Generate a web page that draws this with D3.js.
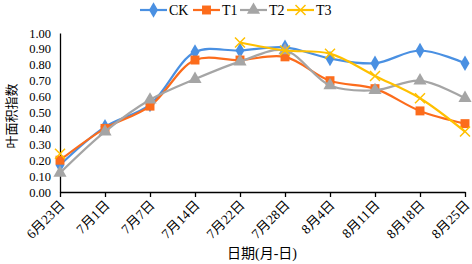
<!DOCTYPE html>
<html>
<head>
<meta charset="utf-8">
<script src="https://cdn.jsdelivr.net/npm/d3@7"></script>
<style>
  body { margin: 0; background: #fff; }
  text { font-family: "Liberation Serif", "Times New Roman", serif; fill: #000; }
  .cjk { font-family: "Liberation Serif", "Noto Sans CJK SC", serif; }
</style>
</head>
<body>
<div id="chart"></div>
<script>
// the dates on the x axis
const dates = ["6月23日", "7月1日", "7月7日", "7月14日", "7月22日", "7月28日", "8月4日", "8月11日", "8月18日", "8月25日"];

const ck = [0.17, 0.41, 0.55, 0.88, 0.89, 0.91, 0.84, 0.81, 0.89, 0.81];
const t1 = [0.20, 0.40, 0.54, 0.83, 0.83, 0.85, 0.70, 0.65, 0.51, 0.43];
const t2 = [0.12, 0.38, 0.58, 0.71, 0.82, 0.89, 0.67, 0.64, 0.70, 0.59];
const t3 = [0.24, null, null, null, 0.94, 0.89, 0.87, 0.73, 0.59, 0.38];

const seriesNames = ["CK", "T1", "T2", "T3"];
const yTicks = [0, 0.1, 0.2, 0.3, 0.4, 0.5, 0.6, 0.7, 0.8, 0.9, 1.0];

const series = [
  {name: "CK", values: ck, color: "#4a90e2", shape: d3.symbolDiamond},
  {name: "T1", values: t1, color: "#fc6c1c", shape: d3.symbolSquare},
  {name: "T2", values: t2, color: "#a5a5a5", shape: d3.symbolTriangle},
  {name: "T3", values: t3, color: "#ffc000", shape: d3.symbolCross}
];

const W = 472, H = 264;
const svg = d3.select("#chart").append("svg")
    .attr("width", W)
    .attr("height", H);

// scales
const x = d3.scalePoint()
    .domain(dates)
    .range([60, 465]);

const y = d3.scaleLinear()
    .domain([0, 1])
    .range([192, 33]);

// y axis (no tick marks, just labels)
const yAxis = svg.append("g")
    .attr("transform", "translate(60,0)")
    .call(d3.axisLeft(y).tickValues(yTicks).tickSize(0).tickPadding(9).tickFormat(d3.format(".2f")));
yAxis.select(".domain").attr("stroke", "#000").attr("stroke-width", 1.3);
yAxis.selectAll("text").attr("font-size", 12.5).style("font-family", "Liberation Serif");

// x axis, ticks point down
const xAxis = svg.append("g")
    .attr("transform", "translate(0,192)")
    .call(d3.axisBottom(x).tickSizeInner(5).tickSizeOuter(0));
xAxis.select(".domain").attr("stroke", "#000").attr("stroke-width", 1.3);
xAxis.selectAll(".tick line").attr("stroke", "#000").attr("stroke-width", 1.3);
xAxis.selectAll("text")
    .attr("class", "cjk")
    .attr("font-size", 13.5)
    .attr("text-anchor", "end")
    .attr("y", 0)
    .attr("dy", 0)
    .attr("transform", "translate(5,14) rotate(-45)");

// lines (smoothed like the original)
const line = d3.line()
    .defined(d => d.v != null)
    .x(d => x(d.date))
    .y(d => y(d.v))
    .curve(d3.curveCatmullRom.alpha(0.5));

series.forEach(s => {
  const pts = dates.map((date, i) => ({date: date, v: s.values[i]}));
  svg.append("path")
      .datum(pts)
      .attr("fill", "none")
      .attr("stroke", s.color)
      .attr("stroke-width", 2.2)
      .attr("d", line);

  const g = svg.append("g");
  pts.filter(d => d.v != null).forEach(d => {
    drawMarker(g, s, x(d.date), y(d.v));
  });
});

function drawMarker(g, s, cx, cy) {
  if (s.name === "T3") {
    // an x shaped marker
    g.append("path")
        .attr("d", `M${cx - 5},${cy - 5}L${cx + 5},${cy + 5}M${cx - 5},${cy + 5}L${cx + 5},${cy - 5}`)
        .attr("stroke", s.color)
        .attr("stroke-width", 1.5)
        .attr("fill", "none");
  } else {
    const size = s.name === "T1" ? 80 : (s.name === "CK" ? 70 : 75);
    g.append("path")
        .attr("d", d3.symbol().type(s.shape).size(size)())
        .attr("transform", `translate(${cx},${cy})`)
        .attr("fill", s.color);
  }
}

// legend along the top
const legendX = [140, 193, 240, 287];
const legend = svg.append("g");
series.forEach((s, i) => {
  const lx = legendX[i];
  legend.append("line")
      .attr("x1", lx).attr("x2", lx + 27)
      .attr("y1", 10).attr("y2", 10)
      .attr("stroke", s.color)
      .attr("stroke-width", 2.2);
  drawMarker(legend, s, lx + 13.5, 10);
  legend.append("text")
      .attr("x", lx + 29)
      .attr("y", 10)
      .attr("dy", "0.35em")
      .attr("font-size", 14)
      .text(seriesNames[i]);
});

// axis titles
svg.append("text")
    .attr("class", "cjk")
    .attr("transform", "translate(11,116) rotate(-90)")
    .attr("text-anchor", "middle")
    .attr("dy", "0.35em")
    .attr("font-size", 13)
    .text("叶面积指数");

svg.append("text")
    .attr("class", "cjk")
    .attr("x", 262)
    .attr("y", 253)
    .attr("text-anchor", "middle")
    .attr("dy", "0.35em")
    .attr("font-size", 14)
    .text("日期(月-日)");
</script>
</body>
</html>
